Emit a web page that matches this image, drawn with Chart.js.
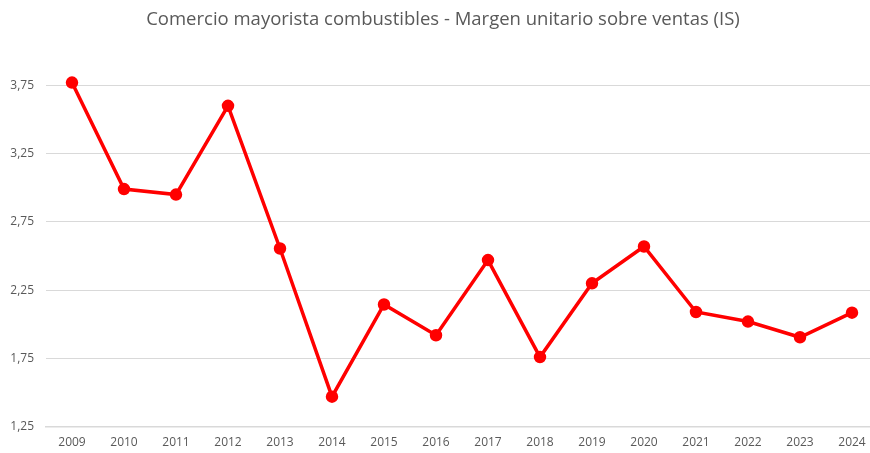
<!DOCTYPE html>
<html>
<head>
<meta charset="utf-8">
<script src="https://cdn.jsdelivr.net/npm/chart.js@4"></script>
<style>
  html, body { margin: 0; padding: 0; background: #fff; overflow: hidden; }
  #wrap { width: 886px; height: 453px; }
</style>
</head>
<body>
<div id="wrap"><canvas id="chart"></canvas></div>
<script>
const years = ['2009', '2010', '2011', '2012', '2013', '2014', '2015', '2016',
  '2017', '2018', '2019', '2020', '2021', '2022', '2023', '2024'];
const margin = [3.77, 2.99, 2.95, 3.60, 2.555, 1.47, 2.145, 1.92,
  2.47, 1.76, 2.30, 2.57, 2.09, 2.02, 1.905, 2.085];
const yTicks = [1.25, 1.75, 2.25, 2.75, 3.25, 3.75];

const grey = '#595959';
const font = { family: '"Open Sans", sans-serif', size: 12 };

new Chart(document.getElementById('chart'), {
  type: 'line',
  data: {
    labels: years,
    datasets: [{
      data: margin,
      borderColor: '#ff0000',
      backgroundColor: '#ff0000',
      borderWidth: 3.5,
      pointRadius: 4.5,
      pointHoverRadius: 4.5,
      tension: 0
    }]
  },
  options: {
    responsive: true,
    maintainAspectRatio: false,
    animation: false,
    layout: { padding: 0 },
    plugins: {
      legend: { display: false },
      tooltip: { enabled: false },
      title: {
        display: true,
        text: 'Comercio mayorista combustibles - Margen unitario sobre ventas (IS)',
        color: grey,
        font: { family: '"Open Sans", sans-serif', size: 18.5, weight: 'normal' },
        padding: { top: 9, bottom: 20 }
      }
    },
    scales: {
      x: {
        offset: true,
        grid: { display: false, drawTicks: false },
        border: { color: '#d9d9d9', width: 1.5 },
        ticks: { color: grey, font, padding: 9, maxRotation: 0 },
        afterFit: scale => { scale.height = 26.3; }
      },
      y: {
        min: 1.25,
        max: 4.0,
        afterBuildTicks: scale => { scale.ticks = yTicks.map(v => ({ value: v })); },
        grid: { color: '#d9d9d9', drawTicks: false },
        border: { display: false },
        ticks: {
          color: grey,
          font,
          padding: 12,
          callback: v => v.toFixed(2).replace('.', ',')
        },
        afterFit: scale => { scale.width = 46; }
      }
    }
  }
});
</script>
</body>
</html>
